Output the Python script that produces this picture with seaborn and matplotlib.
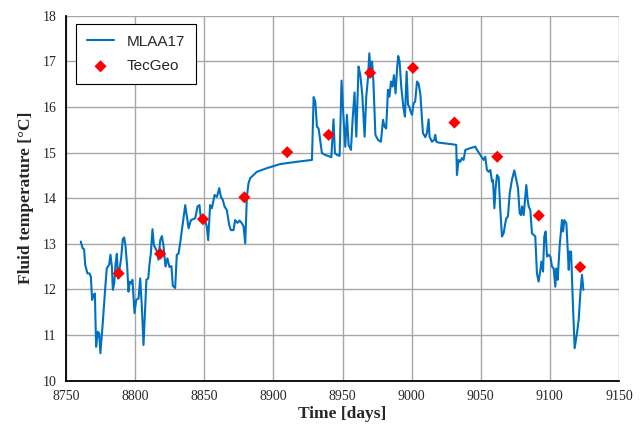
import numpy as np
import pandas as pd
import matplotlib
matplotlib.use("Agg")
import matplotlib.pyplot as plt
import seaborn as sns

# MLAA17 simulated fluid temperature
mlaa_days = [
    8760.6, 8762.0, 8763.0, 8763.8, 8765.4, 8766.9, 8767.9, 8768.8, 8769.8, 8770.8,
    8771.7, 8772.9, 8773.9, 8774.8, 8776.5, 8778.2, 8779.4, 8781.1, 8782.1, 8783.1,
    8783.8, 8784.8, 8785.7, 8786.7, 8787.6, 8788.6, 8789.8, 8791.0, 8792.0, 8792.9,
    8794.2, 8795.1, 8796.1, 8797.1, 8798.0, 8799.5, 8800.7, 8802.4, 8803.6, 8804.8,
    8806.0, 8807.2, 8808.1, 8809.4, 8810.3, 8811.3, 8812.5, 8813.5, 8814.7, 8815.7,
    8816.8, 8818.1, 8819.3, 8820.4, 8821.9, 8823.3, 8824.8, 8826.2, 8827.2, 8828.9,
    8830.1, 8831.3, 8832.5, 8836.2, 8838.6, 8840.3, 8843.4, 8845.1, 8846.5, 8847.5,
    8850.1, 8851.8, 8852.8, 8854.2, 8855.5, 8857.4, 8859.1, 8860.8, 8862.0, 8863.4,
    8864.6, 8866.3, 8868.0, 8869.2, 8871.1, 8872.3, 8874.0, 8875.5, 8877.2, 8878.4,
    8879.6, 8880.8, 8882.0, 8883.2, 8888.0, 8895.3, 8904.9, 8917.0, 8927.9, 8929.1,
    8930.3, 8931.5, 8932.7, 8935.1, 8937.5, 8941.9, 8942.8, 8943.5, 8944.5, 8946.0,
    8947.9, 8949.3, 8950.8, 8952.0, 8953.2, 8954.4, 8956.1, 8957.3, 8958.7, 8960.0,
    8961.6, 8962.9, 8964.3, 8966.0, 8967.2, 8968.4, 8969.4, 8970.4, 8971.4, 8972.3,
    8973.8, 8975.7, 8977.8, 8979.3, 8980.4, 8981.6, 8982.9, 8984.0, 8985.1, 8986.2,
    8987.2, 8988.4, 8989.4, 8990.3, 8991.3, 8992.5, 8994.0, 8995.2, 8996.4, 8997.4,
    8998.3, 8999.3, 9000.3, 9001.4, 9002.6, 9003.9, 9005.0, 9006.3, 9008.2, 9009.9,
    9011.1, 9012.3, 9013.0, 9014.7, 9016.4, 9017.1, 9017.9, 9019.6, 9030.4, 9032.3,
    9032.8, 9034.0, 9035.2, 9036.4, 9037.6, 9038.9, 9042.5, 9046.1, 9047.3, 9049.7,
    9052.1, 9053.3, 9054.5, 9055.8, 9057.0, 9058.2, 9058.9, 9059.9, 9060.8, 9061.8,
    9063.0, 9064.2, 9065.4, 9066.6, 9067.8, 9068.5, 9069.7, 9071.0, 9072.6, 9074.3,
    9075.8, 9077.0, 9078.2, 9079.2, 9079.9, 9081.1, 9082.3, 9083.0, 9084.0, 9084.7,
    9085.9, 9087.1, 9089.5, 9090.7, 9091.9, 9093.2, 9093.9, 9095.1, 9096.0, 9097.0,
    9098.0, 9099.2, 9100.4, 9101.6, 9102.8, 9104.0, 9104.7, 9105.7, 9107.1, 9108.8,
    9109.6, 9110.5, 9112.0, 9113.7, 9114.4, 9115.4, 9116.8, 9118.0, 9119.7, 9120.9,
    9122.1, 9123.3, 9124.3,
]
mlaa_temp = [
    13.05, 12.90, 12.88, 12.54, 12.35, 12.35, 12.28, 11.77, 11.88, 11.91,
    10.74, 11.07, 11.04, 10.60, 11.26, 11.99, 12.46, 12.54, 12.76, 12.50,
    11.99, 12.13, 12.54, 12.78, 12.24, 12.43, 12.68, 13.10, 13.14, 12.97,
    12.50, 11.95, 12.17, 12.13, 12.21, 11.48, 11.77, 11.80, 12.24, 11.62,
    10.78, 11.59, 12.21, 12.24, 12.54, 12.79, 13.32, 12.97, 12.90, 12.83,
    12.65, 13.08, 13.17, 12.97, 12.50, 12.68, 12.49, 12.51, 12.08, 12.03,
    12.76, 12.78, 13.01, 13.85, 13.34, 13.52, 13.56, 13.82, 13.85, 13.56,
    13.56, 13.38, 13.08, 13.85, 13.78, 14.07, 14.03, 14.22, 14.03, 13.96,
    13.82, 13.74, 13.41, 13.30, 13.30, 13.52, 13.46, 13.51, 13.45, 13.38,
    13.01, 14.03, 14.33, 14.44, 14.58, 14.66, 14.75, 14.80, 14.84, 16.22,
    16.12, 15.57, 15.53, 14.99, 14.95, 14.90, 15.39, 15.73, 14.99, 14.95,
    14.93, 16.58, 15.72, 15.13, 15.83, 15.17, 15.06, 15.72, 16.32, 15.35,
    16.89, 16.70, 16.27, 15.35, 16.23, 16.63, 17.18, 16.74, 17.00, 16.59,
    15.39, 15.28, 15.24, 15.72, 15.57, 15.53, 16.38, 16.23, 16.56, 16.45,
    16.70, 16.30, 16.81, 17.12, 17.00, 16.45, 16.01, 15.79, 16.78, 16.05,
    16.01, 15.90, 15.83, 16.08, 16.12, 16.56, 16.52, 16.30, 15.43, 15.34,
    15.43, 15.73, 15.35, 15.24, 15.28, 15.39, 15.24, 15.22, 15.18, 15.17,
    14.51, 14.84, 14.80, 14.88, 14.84, 15.06, 15.10, 15.13, 15.06, 14.95,
    14.84, 14.91, 14.62, 14.58, 14.62, 14.36, 14.40, 13.78, 14.22, 14.51,
    14.46, 13.74, 13.16, 13.23, 13.45, 13.56, 13.60, 14.11, 14.40, 14.61,
    14.40, 14.22, 13.67, 13.63, 13.82, 13.63, 14.04, 14.29, 13.96, 13.82,
    13.74, 13.23, 13.16, 12.35, 12.17, 12.43, 12.61, 12.39, 13.16, 13.27,
    12.72, 12.76, 12.72, 12.50, 12.46, 12.06, 12.46, 12.21, 12.94, 13.52,
    13.27, 13.52, 13.45, 12.43, 12.83, 12.83, 11.62, 10.71, 11.04, 11.33,
    11.91, 12.32, 11.99,
]

# TecGeo points
tecgeo_days = [8788, 8818, 8849, 8879, 8910, 8940, 8970, 9001, 9031, 9062, 9092, 9122]
tecgeo_temp = [12.35, 12.78, 13.54, 14.02, 15.01, 15.39, 16.75, 16.86, 15.66, 14.91, 13.62, 12.49]

x_ticks = list(range(8750, 9151, 50))
y_ticks = list(range(10, 19))

mlaa = pd.DataFrame({"day": mlaa_days, "temp": mlaa_temp})
tecgeo = pd.DataFrame({"day": tecgeo_days, "temp": tecgeo_temp})

sns.set_style("white")
plt.rcParams["font.family"] = ["Liberation Serif", "DejaVu Serif"]

fig = plt.figure(figsize=(6.42, 4.30), dpi=100)
ax = fig.add_axes([0.103, 0.115, 0.861, 0.848])

sns.lineplot(data=mlaa, x="day", y="temp", ax=ax, color="#0070c0",
             linewidth=1.5, label="MLAA17", sort=False, zorder=3)
sns.scatterplot(data=tecgeo, x="day", y="temp", ax=ax, color="#ff0000",
                marker="D", s=38, edgecolor="none", label="TecGeo", zorder=4)

ax.set_xlim(8750, 9150)
ax.set_ylim(10, 18)
ax.set_xticks(x_ticks)
ax.set_yticks(y_ticks)
ax.grid(True, color="#a6a6a6", linewidth=1.0)
ax.set_axisbelow(True)

for side in ["top", "right"]:
    ax.spines[side].set_visible(False)
for side in ["left", "bottom"]:
    ax.spines[side].set_color("black")
    ax.spines[side].set_linewidth(1.3)

ax.tick_params(axis="both", direction="out", length=4, width=1, color="black",
               labelsize=10, pad=3)
ax.set_xlabel("Time [days]", fontsize=12.5, fontweight="bold", labelpad=2)
ax.set_ylabel("Fluid temperature [°C]", fontsize=12.5, fontweight="bold", labelpad=6)

leg = ax.legend(loc="upper left", bbox_to_anchor=(0.018, 0.978), frameon=True,
                fancybox=False, edgecolor="black", framealpha=1,
                prop={"family": "Liberation Sans", "size": 11},
                handlelength=1.8, borderpad=0.7, labelspacing=0.7,
                handletextpad=0.8, borderaxespad=0)
leg.get_frame().set_linewidth(0.8)

fig.savefig("out.png", dpi=100)
